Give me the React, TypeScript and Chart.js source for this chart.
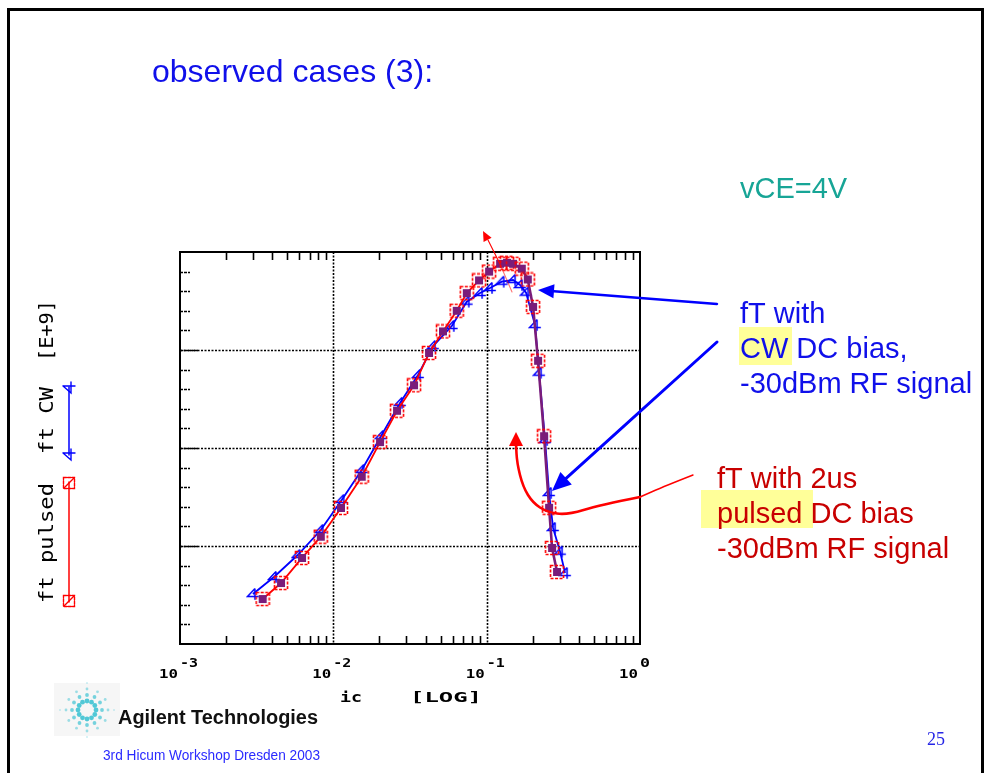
import { useEffect, useRef } from 'react';
import { Chart, registerables } from 'chart.js';

Chart.register(...registerables);

const CANVAS_W = 984;
const CANVAS_H = 773;

// ---------------- data ----------------
// ft pulsed (red): collector current [A] and fT [E+9]
const pulsedIc = [0.00346, 0.00456, 0.00625, 0.00828, 0.01122, 0.01532, 0.02017, 0.02603, 0.0336, 0.0421, 0.0519, 0.0638, 0.0742, 0.0892, 0.1037, 0.1223, 0.1358, 0.1487, 0.1694, 0.1854, 0.2008, 0.2164, 0.2368, 0.2553, 0.2671, 0.2878];
const pulsedFt = [4.59, 6.22, 8.78, 10.95, 13.88, 17.07, 20.6, 23.8, 26.4, 29.7, 31.9, 34.0, 35.8, 37.1, 38.0, 38.8, 38.9, 38.8, 38.3, 37.2, 34.4, 28.9, 21.2, 13.9, 9.8, 7.35];
// ft CW (blue)
const cwIc = [0.00299, 0.0041, 0.00586, 0.00828, 0.01134, 0.01532, 0.02048, 0.02723, 0.03568, 0.04471, 0.05922, 0.0742, 0.0906, 0.1052, 0.1254, 0.1487, 0.1651, 0.1807, 0.2068, 0.2197, 0.2404, 0.2553, 0.2711, 0.3012, 0.3246];
const cwFt = [5.1, 6.84, 9.08, 11.63, 14.69, 17.76, 21.22, 24.6, 27.45, 30.4, 32.45, 34.93, 35.82, 36.33, 36.97, 37.14, 36.63, 35.85, 32.55, 27.68, 20.82, 15.41, 11.84, 9.42, 7.24];

// axes
const xMin = 0.001;
const xMax = 1;
const xTickValues = [0.001, 0.01, 0.1, 1];
const xTickBase = ['10', '10', '10', '10'];
const xTickExp = ['-3', '-2', '-1', '0'];
const xGridValues = [0.01, 0.1];
const xMinorMultipliers = [2, 3, 4, 5, 6, 7, 8, 9];
const yMin = 0;
const yMax = 40;
const yGridValues = [10, 20, 30];
const yMinorStep = 2;

// texts
const titleText = 'observed cases (3):';
const vceText = 'vCE=4V';
const cwNoteLines = ['fT with', 'CW DC bias,', '-30dBm RF signal'];
const pulsedNoteLines = ['fT with 2us', 'pulsed DC bias', '-30dBm RF signal'];
const yLabelPulsed = 'ft pulsed';
const yLabelCw = 'ft CW';
const yLabelUnit = '[E+9]';
const xLabelVar = 'ic';
const xLabelUnit = '[LOG]';
const companyText = 'Agilent Technologies';
const footerText = '3rd Hicum Workshop Dresden 2003';
const pageNumber = '25';

const RED = '#ff0000';
const PURPLE = '#7a1c7a';
const BLUE = '#0000ff';
const TEXT_BLUE = '#1010ea';
const TEXT_RED = '#c80000';
const TEAL = '#17a596';
const HILITE = '#ffff99';

function makePulsedMarker(): HTMLCanvasElement {
  const c = document.createElement('canvas');
  c.width = 16;
  c.height = 16;
  const g = c.getContext('2d')!;
  g.fillStyle = PURPLE;
  g.fillRect(4, 4, 8, 8);
  g.strokeStyle = RED;
  g.lineWidth = 1.6;
  g.setLineDash([3, 1.5]);
  g.strokeRect(1.5, 1.5, 13, 13);
  return c;
}

function makeCwMarker(): HTMLCanvasElement {
  const c = document.createElement('canvas');
  c.width = 14;
  c.height = 14;
  const g = c.getContext('2d')!;
  g.strokeStyle = BLUE;
  g.lineWidth = 1.5;
  g.beginPath();
  g.moveTo(9, 1.5);
  g.lineTo(1.5, 9.5);
  g.lineTo(12.8, 9.5);
  g.moveTo(9, 1.5);
  g.lineTo(9, 12.8);
  g.stroke();
  return c;
}

type Opt = { align?: 'left' | 'right' | 'center'; width?: number };

function drawText(ctx: CanvasRenderingContext2D, s: string, x: number, y: number, font: string, color: string, opt: Opt = {}) {
  ctx.save();
  ctx.font = font;
  ctx.fillStyle = color;
  ctx.textBaseline = 'alphabetic';
  ctx.textAlign = 'left';
  const m = ctx.measureText(s).width;
  const sx = opt.width ? opt.width / m : 1;
  const w = m * sx;
  let left = x;
  if (opt.align === 'right') left = x - w;
  else if (opt.align === 'center') left = x - w / 2;
  ctx.translate(left, y);
  ctx.scale(sx, 1);
  ctx.fillText(s, 0, 0);
  ctx.restore();
}

function drawRotated(ctx: CanvasRenderingContext2D, s: string, x: number, yBottom: number, length: number, font: string) {
  ctx.save();
  ctx.translate(x, yBottom);
  ctx.rotate(-Math.PI / 2);
  ctx.font = font;
  ctx.fillStyle = '#000';
  ctx.textBaseline = 'middle';
  ctx.textAlign = 'left';
  const m = ctx.measureText(s).width;
  ctx.scale(length / m, 1);
  ctx.fillText(s, 0, 0);
  ctx.restore();
}

function line(ctx: CanvasRenderingContext2D, x0: number, y0: number, x1: number, y1: number) {
  ctx.beginPath();
  ctx.moveTo(x0, y0);
  ctx.lineTo(x1, y1);
  ctx.stroke();
}

function arrowHead(ctx: CanvasRenderingContext2D, fx: number, fy: number, tx: number, ty: number, len: number, half: number, color: string) {
  const dx = tx - fx;
  const dy = ty - fy;
  const d = Math.hypot(dx, dy) || 1;
  const ux = dx / d;
  const uy = dy / d;
  const bx = tx - ux * len;
  const by = ty - uy * len;
  ctx.fillStyle = color;
  ctx.beginPath();
  ctx.moveTo(tx, ty);
  ctx.lineTo(bx - uy * half, by + ux * half);
  ctx.lineTo(bx + uy * half, by - ux * half);
  ctx.closePath();
  ctx.fill();
}

function straightArrow(ctx: CanvasRenderingContext2D, x0: number, y0: number, tx: number, ty: number, color: string, lw: number, len: number, half: number) {
  const d = Math.hypot(tx - x0, ty - y0);
  const ex = tx - ((tx - x0) / d) * len * 0.8;
  const ey = ty - ((ty - y0) / d) * len * 0.8;
  ctx.strokeStyle = color;
  ctx.lineWidth = lw;
  line(ctx, x0, y0, ex, ey);
  arrowHead(ctx, x0, y0, tx, ty, len, half, color);
}

function smoothPath(ctx: CanvasRenderingContext2D, pts: number[][]) {
  ctx.beginPath();
  ctx.moveTo(pts[0][0], pts[0][1]);
  for (let i = 1; i < pts.length - 1; i++) {
    const mx = (pts[i][0] + pts[i + 1][0]) / 2;
    const my = (pts[i][1] + pts[i + 1][1]) / 2;
    ctx.quadraticCurveTo(pts[i][0], pts[i][1], mx, my);
  }
  const l = pts[pts.length - 1];
  ctx.lineTo(l[0], l[1]);
  ctx.stroke();
}

function drawLogo(ctx: CanvasRenderingContext2D, cx: number, cy: number) {
  ctx.save();
  ctx.fillStyle = '#f6f6f6';
  ctx.fillRect(cx - 33, cy - 27, 66, 53);
  const spokes = 12;
  for (let k = 0; k < spokes; k++) {
    const ang = (k * Math.PI * 2) / spokes;
    const long = k % 3 === 0;
    const n = long ? 4 : 3;
    for (let j = 0; j < n; j++) {
      const r = 9 + j * 6;
      const size = Math.max(0.8, 2.4 - j * 0.5);
      ctx.globalAlpha = Math.max(0.3, 0.9 - j * 0.2);
      ctx.fillStyle = '#3fc3d3';
      ctx.beginPath();
      ctx.arc(cx + Math.cos(ang) * r, cy + Math.sin(ang) * r, size, 0, Math.PI * 2);
      ctx.fill();
    }
  }
  ctx.restore();
}

const deco = {
  id: 'deco',
  beforeDatasetsDraw(chart: any) {
    const { ctx, chartArea: a, scales } = chart;
    const xs = scales.x;
    const ys = scales.y;
    ctx.save();
    ctx.strokeStyle = '#000';
    // dashed grid
    ctx.lineWidth = 1.6;
    ctx.setLineDash([2, 1.5]);
    for (const v of xGridValues) {
      const px = Math.round(xs.getPixelForValue(v)) + 0.5;
      line(ctx, px, a.top, px, a.bottom);
    }
    for (const v of yGridValues) {
      const py = Math.round(ys.getPixelForValue(v)) + 0.5;
      line(ctx, a.left, py, a.right, py);
    }
    // left minor ticks
    ctx.setLineDash([3, 1]);
    ctx.lineWidth = 1.5;
    for (let v = yMin + yMinorStep; v < yMax; v += yMinorStep) {
      const py = Math.round(ys.getPixelForValue(v)) + 0.5;
      const major = yGridValues.includes(v);
      line(ctx, a.left, py, a.left + (major ? 18 : 10), py);
    }
    ctx.setLineDash([]);
    // top/bottom log minor ticks
    ctx.lineWidth = 1.6;
    for (let i = 0; i < xTickValues.length - 1; i++) {
      for (const m of xMinorMultipliers) {
        const px = Math.round(xs.getPixelForValue(xTickValues[i] * m)) + 0.5;
        line(ctx, px, a.top, px, a.top + 8);
        line(ctx, px, a.bottom, px, a.bottom - 8);
      }
    }
    // frame
    ctx.lineWidth = 2;
    ctx.strokeRect(a.left, a.top, a.right - a.left, a.bottom - a.top);
    ctx.restore();
  },
  afterDraw(chart: any) {
    const { ctx, scales } = chart;
    const xs = scales.x;
    ctx.save();

    // page frame
    ctx.fillStyle = '#000';
    ctx.fillRect(7, 8, 3, CANVAS_H - 8);
    ctx.fillRect(7, 8, CANVAS_W - 7, 3);
    ctx.fillRect(CANVAS_W - 3, 8, 3, CANVAS_H - 8);

    // title
    drawText(ctx, titleText, 152, 82, '32px "Liberation Sans", Arial, sans-serif', TEXT_BLUE);
    drawText(ctx, vceText, 740, 198, '29px "Liberation Sans", Arial, sans-serif', TEAL);

    // highlights
    ctx.fillStyle = HILITE;
    ctx.fillRect(739, 327, 53, 38);
    ctx.fillRect(701, 490, 112, 38);

    const noteFont = '29px "Liberation Sans", Arial, sans-serif';
    cwNoteLines.forEach((s, i) => drawText(ctx, s, 740, 323 + i * 35, noteFont, TEXT_BLUE));
    pulsedNoteLines.forEach((s, i) => drawText(ctx, s, 717, 488 + i * 35, noteFont, TEXT_RED));

    // arrows
    ctx.lineCap = 'round';
    straightArrow(ctx, 717, 304, 538, 290, BLUE, 2.5, 16, 7);
    straightArrow(ctx, 717, 342, 552, 491, BLUE, 3, 19, 8.5);
    // red curved callout
    ctx.strokeStyle = RED;
    ctx.lineWidth = 1.4;
    smoothPath(ctx, [[693, 475], [665, 486], [640, 497]]);
    ctx.lineWidth = 2.6;
    smoothPath(ctx, [[640, 497], [600, 505], [567, 515], [547, 512], [533, 503], [523, 487], [517, 463], [516, 444]]);
    arrowHead(ctx, 516, 460, 516, 432, 14, 7, RED);
    // small red arrow above peak
    ctx.lineWidth = 1.1;
    ctx.strokeStyle = 'rgba(255,0,0,0.55)';
    line(ctx, 512, 292, 500, 264);
    ctx.strokeStyle = RED;
    line(ctx, 500, 264, 488, 240);
    arrowHead(ctx, 500, 264, 483, 231, 10, 4.5, RED);

    // x tick labels
    const tickFont = 'bold 13px "DejaVu Sans Mono", monospace';
    xTickValues.forEach((v, i) => {
      const px = xs.getPixelForValue(v);
      drawText(ctx, xTickBase[i], px - 2, 678, tickFont, '#000', { align: 'right', width: 19 });
      drawText(ctx, xTickExp[i], px, 667, tickFont, '#000', { width: xTickExp[i].length > 1 ? 18 : 10 });
    });
    // x axis title
    drawText(ctx, xLabelVar, 340, 702, 'bold 14px "DejaVu Sans Mono", monospace', '#000', { width: 22 });
    drawText(ctx, xLabelUnit, 410, 702, 'bold 14px "DejaVu Sans Mono", monospace', '#000', { width: 72 });

    // y axis title with legend
    const yFont = '19px "DejaVu Sans Mono", monospace';
    drawRotated(ctx, yLabelPulsed, 48, 603, 120, yFont);
    drawRotated(ctx, yLabelCw, 48, 454, 67, yFont);
    drawRotated(ctx, yLabelUnit, 48, 361, 61, yFont);
    ctx.lineWidth = 1.5;
    ctx.strokeStyle = BLUE;
    line(ctx, 69, 387, 69, 455);
    ctx.strokeStyle = RED;
    line(ctx, 69, 482, 69, 602);
    // legend end markers
    const drawCwEnd = (y: number) => {
      ctx.save();
      ctx.translate(69, y);
      ctx.rotate(-Math.PI / 2);
      ctx.strokeStyle = BLUE;
      ctx.lineWidth = 1.4;
      ctx.beginPath();
      ctx.moveTo(2, -6);
      ctx.lineTo(-5, 2);
      ctx.lineTo(6, 2);
      ctx.moveTo(2, -6);
      ctx.lineTo(2, 6);
      ctx.stroke();
      ctx.restore();
    };
    drawCwEnd(388);
    drawCwEnd(455);
    const drawPulsedEnd = (y: number) => {
      ctx.save();
      ctx.strokeStyle = RED;
      ctx.lineWidth = 1.4;
      ctx.setLineDash([3, 1.2]);
      ctx.strokeRect(63.5, y - 5.5, 11, 11);
      ctx.setLineDash([]);
      line(ctx, 64, y + 5, 74, y - 5);
      ctx.restore();
    };
    drawPulsedEnd(483);
    drawPulsedEnd(601);

    // logo and footer
    drawLogo(ctx, 87, 710);
    drawText(ctx, companyText, 118, 724, 'bold 20px "Liberation Sans", Arial, sans-serif', '#111', { width: 200 });
    drawText(ctx, footerText, 103, 760, '14px "Liberation Sans", Arial, sans-serif', '#2a2aff', { width: 217 });
    drawText(ctx, pageNumber, 927, 745, '18px "Liberation Serif", "Times New Roman", serif', '#2626e6');

    ctx.restore();
  },
};

export default function App() {
  const ref = useRef<HTMLCanvasElement | null>(null);

  useEffect(() => {
    document.body.style.margin = '0';
    document.body.style.background = '#ffffff';
    const canvas = ref.current;
    if (!canvas) return;
    const pulsedMarker = makePulsedMarker();
    const cwMarker = makeCwMarker();
    const chart = new Chart(canvas, {
      type: 'scatter',
      data: {
        datasets: [
          {
            label: yLabelPulsed,
            data: pulsedIc.map((x, i) => ({ x, y: pulsedFt[i] })),
            showLine: true,
            borderColor: RED,
            backgroundColor: PURPLE,
            borderWidth: 1.8,
            pointStyle: pulsedMarker as any,
            pointRadius: 6,
            order: 1,
            segment: {
              borderColor: (c: any) => (c.p0.parsed.x > 0.13 ? PURPLE : undefined),
              borderWidth: (c: any) => (c.p0.parsed.x > 0.13 ? 2.6 : undefined),
            },
          } as any,
          {
            label: yLabelCw,
            data: cwIc.map((x, i) => ({ x, y: cwFt[i] })),
            showLine: true,
            borderColor: BLUE,
            backgroundColor: BLUE,
            borderWidth: 1.8,
            pointStyle: cwMarker as any,
            pointRadius: 6,
            order: 2,
          } as any,
        ],
      },
      options: {
        responsive: false,
        animation: false,
        devicePixelRatio: 1,
        events: [],
        layout: { padding: { left: 180, top: 252, right: CANVAS_W - 640, bottom: CANVAS_H - 644 } },
        scales: {
          x: { type: 'logarithmic', min: xMin, max: xMax, display: false },
          y: { type: 'linear', min: yMin, max: yMax, display: false },
        },
        plugins: { legend: { display: false }, tooltip: { enabled: false } },
      },
      plugins: [deco as any],
    });
    return () => chart.destroy();
  }, []);

  return (
    <div style={{ width: CANVAS_W, height: CANVAS_H, background: '#fff' }}>
      <canvas ref={ref} width={CANVAS_W} height={CANVAS_H} style={{ display: 'block' }} />
    </div>
  );
}
